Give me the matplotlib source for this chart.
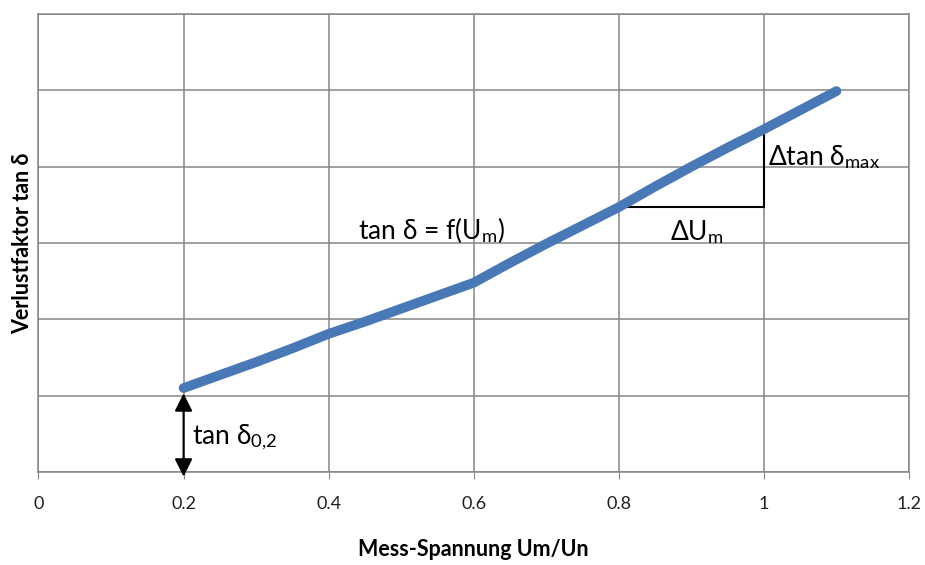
import matplotlib
matplotlib.use('Agg')
import matplotlib.pyplot as plt

plt.rcParams['font.family'] = ['Lato', 'Open Sans', 'DejaVu Sans']
plt.rcParams['mathtext.fontset'] = 'custom'
plt.rcParams['mathtext.rm'] = 'Lato'
plt.rcParams['mathtext.it'] = 'Lato:italic'
plt.rcParams['mathtext.bf'] = 'Lato:bold'

u_mess = [0.2, 0.25, 0.3, 0.35, 0.4, 0.45, 0.5, 0.55, 0.6, 0.65,
          0.7, 0.75, 0.8, 0.85, 0.9, 0.95, 1.0, 1.05, 1.1]
tan_delta = [1.10, 1.27, 1.44, 1.62, 1.81, 1.97, 2.14, 2.31, 2.48, 2.74,
             2.99, 3.23, 3.47, 3.74, 4.00, 4.25, 4.49, 4.74, 4.99]

x_ticks = [0, 0.2, 0.4, 0.6, 0.8, 1.0, 1.2]
x_tick_labels = ['0', '0.2', '0.4', '0.6', '0.8', '1', '1.2']
y_grid = [0, 1, 2, 3, 4, 5, 6]

grau = '#868686'

fig = plt.figure(figsize=(9.25, 5.65), dpi=100)
ax = fig.add_axes([0.0416, 0.1646, 0.9411, 0.8106])

ax.plot(u_mess, tan_delta, color='#4878B6', lw=7, solid_capstyle='round',
        solid_joinstyle='round', zorder=3)

# Steigungsdreieck
ax.plot([0.8, 1.0], [3.47, 3.47], color='black', lw=1.5, zorder=2)
ax.plot([1.0, 1.0], [3.47, 4.42], color='black', lw=1.5, zorder=2)

# Pfeil fuer tan delta 0,2
ax.annotate('', xy=(0.2, -0.06), xytext=(0.2, 1.03),
            arrowprops=dict(arrowstyle='<|-|>', color='black', lw=1.5,
                            mutation_scale=27, shrinkA=0, shrinkB=0),
            annotation_clip=False, zorder=4)

fs = 19
ax.text(0.212, 0.46, r'tan δ$_{\mathrm{0{,}2}}$', fontsize=fs, va='center', ha='left')
ax.text(0.44, 3.17, r'tan δ = f(U$_{\mathrm{m}}$)', fontsize=fs, va='center', ha='left')
ax.text(0.87, 3.15, r'ΔU$_{\mathrm{m}}$', fontsize=fs, va='center', ha='left')
ax.text(1.005, 4.13, r'Δtan δ$_{\mathrm{max}}$', fontsize=fs, va='center', ha='left')

ax.set_xlim(0, 1.2)
ax.set_ylim(0, 6)
ax.set_xticks(x_ticks)
ax.set_xticklabels(x_tick_labels, fontsize=13, color='#202020')
ax.set_yticks(y_grid)
ax.set_yticklabels([])
ax.tick_params(axis='x', length=5, color=grau, pad=12.5)
ax.tick_params(axis='y', length=0)
ax.grid(True, color=grau, lw=1.1)
ax.set_axisbelow(True)
for s in ax.spines.values():
    s.set_color(grau)
    s.set_linewidth(1.1)

ax.set_xlabel('Mess-Spannung Um/Un', fontsize=15.5, fontweight='bold', labelpad=19)
ax.set_ylabel('Verlustfaktor tan δ', fontsize=15.5, fontweight='bold', labelpad=0)

fig.savefig('out.png', dpi=100)
